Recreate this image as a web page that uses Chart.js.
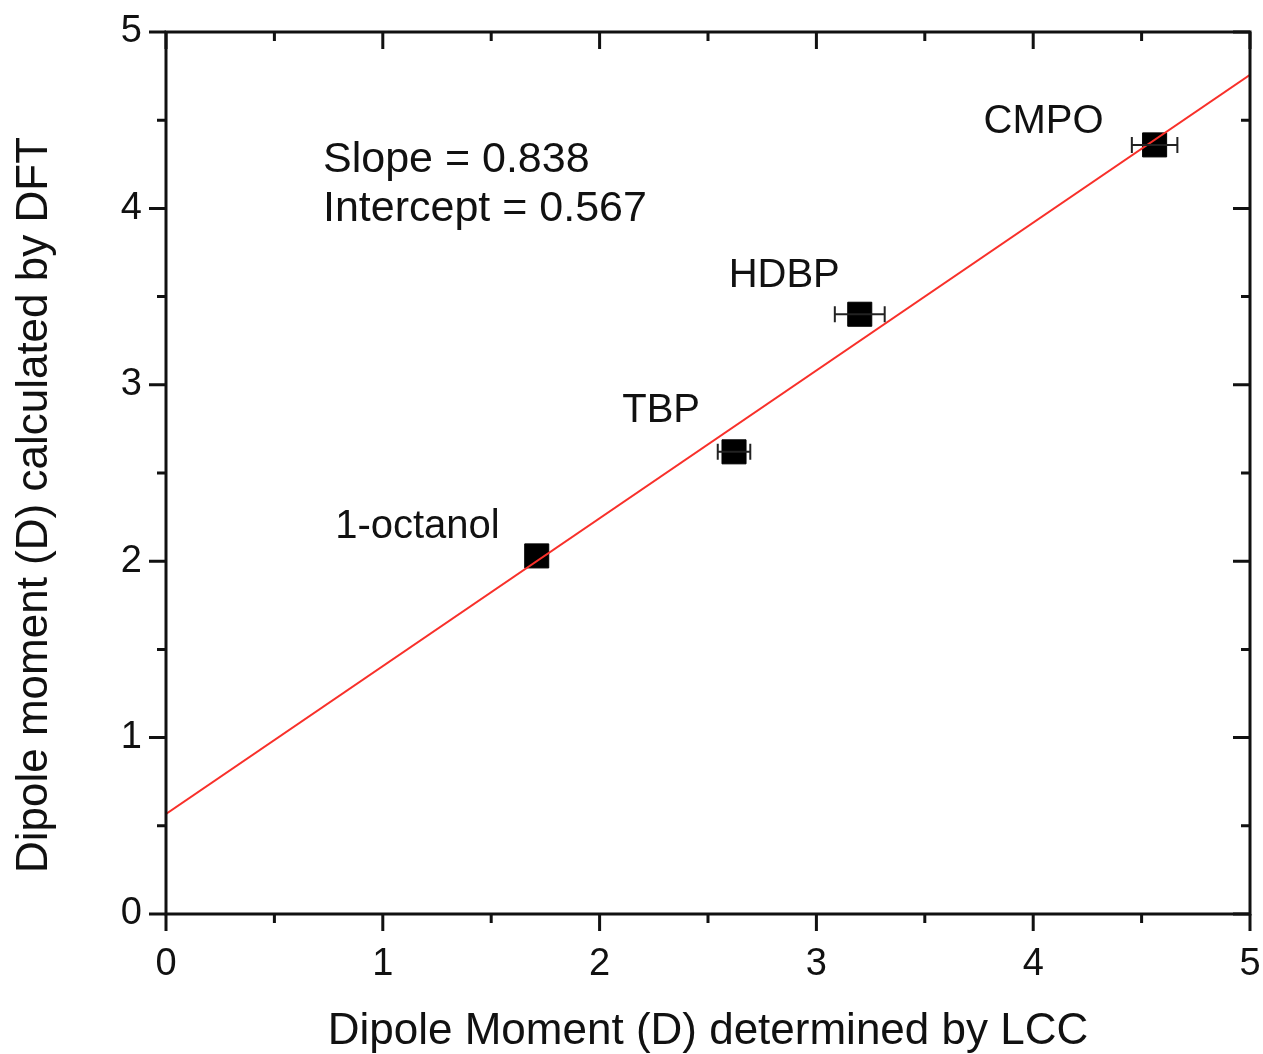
<!DOCTYPE html>
<html>
<head>
<meta charset="utf-8">
<script src="https://cdn.jsdelivr.net/npm/chart.js@4"></script>
<style>
  html, body { margin: 0; padding: 0; background: #fff; }
  #wrap { width: 1263px; height: 1054px; }
</style>
</head>
<body>
<div id="wrap"><canvas id="dipoleChart" width="1263" height="1054"></canvas></div>
<script>
// measured dipole moments (Debye)
const compounds = ['1-octanol', 'TBP', 'HDBP', 'CMPO'];
const lccValues = [1.71, 2.62, 3.20, 4.56];
const dftValues = [2.03, 2.62, 3.40, 4.36];
const lccErrors = [0, 0.075, 0.115, 0.105];

// linear fit
const slope = 0.838;
const intercept = 0.567;
const fitX = [0, 5];

const xTicks = [0, 1, 2, 3, 4, 5];
const yTicks = [0, 1, 2, 3, 4, 5];

const FONT = "'Liberation Sans', Arial, sans-serif";

// label offsets from each point (px), text right-aligned
const labelOffsets = [[-37, -18], [-34, -30], [-20, -27], [-51, -12]];

const framePlugin = {
    id: 'frame',
    afterDatasetsDraw(chart){
        const ctx = chart.ctx;
        const xs = chart.scales.x, ys = chart.scales.y;

        // error bars
        ctx.save();
        ctx.strokeStyle = '#222';
        ctx.lineWidth = 2;
        lccValues.forEach((v, i) => {
            const e = lccErrors[i];
            if(!e) return;
            const x1 = xs.getPixelForValue(v - e), x2 = xs.getPixelForValue(v + e);
            const y = ys.getPixelForValue(dftValues[i]);
            ctx.beginPath();
            ctx.moveTo(x1, y); ctx.lineTo(x2, y);
            ctx.moveTo(x1, y - 8); ctx.lineTo(x1, y + 8);
            ctx.moveTo(x2, y - 8); ctx.lineTo(x2, y + 8);
            ctx.stroke();
        });
        ctx.restore();
    },
    afterDraw(chart){
        const ctx = chart.ctx;
        const xs = chart.scales.x, ys = chart.scales.y;
        const a = chart.chartArea;
        ctx.save();
        ctx.strokeStyle = '#111';
        ctx.lineWidth = 3;
        ctx.lineCap = 'square';
        ctx.strokeRect(a.left, a.top, a.right - a.left, a.bottom - a.top);

        // ticks: outward on left/bottom, inward on top/right
        ctx.lineCap = 'butt';
        ctx.beginPath();
        for(let v = 0; v <= 5.001; v += 0.5){
            const len = Math.abs(v - Math.round(v)) < 1e-6 ? 17 : 9;
            const px = xs.getPixelForValue(v);
            ctx.moveTo(px, a.bottom); ctx.lineTo(px, a.bottom + len);
            ctx.moveTo(px, a.top); ctx.lineTo(px, a.top + len);
            const py = ys.getPixelForValue(v);
            ctx.moveTo(a.left, py); ctx.lineTo(a.left - len, py);
            ctx.moveTo(a.right, py); ctx.lineTo(a.right - len, py);
        }
        ctx.stroke();

        ctx.fillStyle = '#111';
        ctx.textBaseline = 'alphabetic';

        // x tick labels
        ctx.font = '38px ' + FONT;
        ctx.textAlign = 'center';
        xTicks.forEach(v => ctx.fillText(String(v), xs.getPixelForValue(v), a.bottom + 61));

        // compound labels
        ctx.font = '40px ' + FONT;
        ctx.textAlign = 'right';
        compounds.forEach((name, i) => {
            const px = xs.getPixelForValue(lccValues[i]);
            const py = ys.getPixelForValue(dftValues[i]);
            ctx.fillText(name, px + labelOffsets[i][0], py + labelOffsets[i][1]);
        });

        // fit parameters
        ctx.font = '43px ' + FONT;
        ctx.textAlign = 'left';
        ctx.fillText('Slope = ' + slope.toFixed(3), a.left + 157, a.top + 140);
        ctx.fillText('Intercept = ' + intercept.toFixed(3), a.left + 157, a.top + 189);

        // axis titles
        ctx.font = '44px ' + FONT;
        ctx.textAlign = 'center';
        ctx.fillText('Dipole Moment (D) determined by LCC', (a.left + a.right) / 2, 1044);
        ctx.translate(47, 505);
        ctx.rotate(-Math.PI / 2);
        ctx.fillText('Dipole moment (D) calculated by DFT', 0, 0);
        ctx.restore();
    }
};

const ctx = document.getElementById('dipoleChart').getContext('2d');
new Chart(ctx, {
    type: 'scatter',
    data: {
        datasets: [
            {
                type: 'line',
                data: fitX.map(x => ({ x: x, y: intercept + slope * x })),
                borderColor: '#f8302a',
                borderWidth: 2,
                pointRadius: 0,
                fill: false,
                order: 1
            },
            {
                data: lccValues.map((x, i) => ({ x: x, y: dftValues[i] })),
                pointStyle: 'rect',
                pointRadius: 17,
                backgroundColor: '#000',
                borderColor: '#000',
                borderWidth: 1,
                order: 2
            }
        ]
    },
    options: {
        responsive: false,
        animation: false,
        events: [],
        layout: { autoPadding: false, padding: { top: 32, right: 13, left: 0, bottom: 0 } },
        plugins: { legend: { display: false }, tooltip: { enabled: false } },
        scales: {
            x: {
                type: 'linear', min: 0, max: 5,
                afterFit(scale){
                    scale.height = 140;
                    scale.paddingLeft = 0; scale.paddingRight = 0;
                },
                afterBuildTicks(scale){ scale.ticks = xTicks.map(v => ({ value: v })); },
                grid: { display: false, drawTicks: false, tickLength: 0 },
                border: { display: false },
                ticks: { display: false }
            },
            y: {
                type: 'linear', min: 0, max: 5,
                afterFit(scale){
                    scale.width = 166;
                    scale.paddingTop = 0; scale.paddingBottom = 0;
                },
                afterBuildTicks(scale){ scale.ticks = yTicks.map(v => ({ value: v })); },
                grid: { display: false, drawTicks: false, tickLength: 0 },
                border: { display: false },
                ticks: { padding: 24, color: '#111', font: { family: FONT, size: 38 } }
            }
        }
    },
    plugins: [framePlugin]
});
</script>
</body>
</html>
